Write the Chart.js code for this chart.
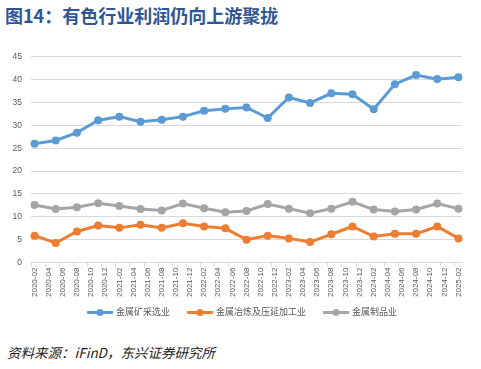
<!DOCTYPE html>
<html>
<head>
<meta charset="utf-8">
<script src="https://cdn.jsdelivr.net/npm/chart.js@4.4.1/dist/chart.umd.min.js"></script>
<style>
    body { margin: 0; background: #fff; width: 481px; height: 369px; overflow: hidden; position: relative; }
    #title { position: absolute; left: 5px; top: 2px; font: bold 18px "Noto Sans CJK SC", sans-serif; color: #2f5597; white-space: nowrap; }
    #source { position: absolute; left: 7px; top: 342px; font: italic 13.5px "Noto Sans CJK SC", sans-serif; color: #222; white-space: nowrap; }
    #wrap { position: absolute; left: 0; top: 30px; }
</style>
</head>
<body>
<div id="title">图14：有色行业利润仍向上游聚拢</div>
<div id="wrap"><canvas id="chart" width="481" height="297"></canvas></div>
<div id="source">资料来源：iFinD，东兴证券研究所</div>
<script>
// ########## data ##########
// axis runs monthly 2020-02 .. 2025-02, values are quarterly (every 3rd month)
const startYear = 2020;
const startMonth = 2;
const monthCount = 61;

const seriesNames = ["金属矿采选业", "金属冶炼及压延加工业", "金属制品业"];
const mining = [26.0, 26.7, 28.4, 31.1, 31.9, 30.8, 31.2, 31.9, 33.2, 33.6, 33.9,
    31.6, 36.1, 34.9, 37.0, 36.8, 33.5, 39.0, 41.0, 40.1, 40.5];
const smelting = [5.9, 4.3, 6.8, 8.1, 7.6, 8.3, 7.6, 8.6, 7.9, 7.5, 5.0,
    5.9, 5.3, 4.5, 6.2, 7.9, 5.7, 6.3, 6.3, 7.9, 5.3];
const products = [12.6, 11.7, 12.1, 13.0, 12.4, 11.7, 11.4, 12.9, 11.9, 11.0, 11.3,
    12.8, 11.8, 10.8, 11.8, 13.3, 11.6, 11.2, 11.6, 12.9, 11.8];
const yTicks = [0, 5, 10, 15, 20, 25, 30, 35, 40, 45];

const colors = ["#5b9bd5", "#ed7d31", "#a5a5a5"];

// month labels
const months = [];
for (let i = 0; i < monthCount; i++) {
    const m = startMonth - 1 + i;
    const y = startYear + Math.floor(m / 12);
    const mm = (m % 12) + 1;
    months.push(y + "-" + (mm < 10 ? "0" + mm : mm));
}

function spread(values) {
    const out = new Array(monthCount).fill(null);
    values.forEach((v, k) => { out[k * 3] = v; });
    return out;
}

// line + dot legend marker (left margin gives the gap to the previous item)
function legendMarker(color) {
    const c = document.createElement("canvas");
    c.width = 36;
    c.height = 9;
    const g = c.getContext("2d");
    g.strokeStyle = color;
    g.lineWidth = 3;
    g.beginPath();
    g.moveTo(9.25, 4.5);
    g.lineTo(35.25, 4.5);
    g.stroke();
    g.fillStyle = color;
    g.beginPath();
    g.arc(22.25, 4.5, 3.6, 0, Math.PI * 2);
    g.fill();
    return c;
}
const markers = colors.map(legendMarker);

const font = '"Liberation Sans", "Noto Sans CJK SC", sans-serif';

// nudge the legend right so it sits under the plot like the original
const legendShift = {
    id: "legendShift",
    afterLayout: function (chart) {
        chart.legend.left += 7.5;
        chart.legend.right += 7.5;
    },
};

new Chart(document.getElementById("chart"), {
    type: "line",
    data: {
        labels: months,
        datasets: [mining, smelting, products].map((vals, i) => ({
            label: seriesNames[i],
            data: spread(vals),
            borderColor: colors[i],
            backgroundColor: colors[i],
            borderWidth: 3,
            pointRadius: 4,
            pointBorderWidth: 0,
            pointBackgroundColor: colors[i],
            spanGaps: true,
            tension: 0,
        })),
    },
    plugins: [legendShift],
    options: {
        responsive: false,
        animation: false,
        layout: { padding: { left: 0, right: 19, top: 26.7, bottom: 0 } },
        plugins: {
            tooltip: { enabled: false },
            legend: {
                position: "bottom",
                labels: {
                    usePointStyle: true,
                    pointStyleWidth: 31.5,
                    padding: 10,
                    color: "#595959",
                    font: { family: font, size: 9 },
                    generateLabels: function (chart) {
                        return chart.data.datasets.map((ds, i) => ({
                            text: ds.label,
                            pointStyle: markers[i],
                            fillStyle: colors[i],
                            strokeStyle: colors[i],
                            lineWidth: 0,
                            fontColor: "#595959",
                            datasetIndex: i,
                        }));
                    },
                },
            },
        },
        scales: {
            x: {
                offset: true,
                grid: {
                    offset: true,
                    drawOnChartArea: false,
                    drawTicks: true,
                    tickLength: 4,
                    color: function (ctx) {
                        return ctx.index % 2 === 0 || ctx.index === monthCount ? "#d9d9d9" : "rgba(0,0,0,0)";
                    },
                },
                border: { color: "#d9d9d9" },
                ticks: {
                    autoSkip: false,
                    maxRotation: 90,
                    minRotation: 90,
                    padding: 1,
                    color: "#595959",
                    font: { family: font, size: 8 },
                    callback: function (value, index) {
                        return index % 2 === 0 ? months[index] : "";
                    },
                },
            },
            y: {
                min: 0,
                max: 45,
                afterBuildTicks: function (scale) {
                    scale.ticks = yTicks.map((v) => ({ value: v }));
                },
                afterFit: function (scale) {
                    scale.width = 31;
                },
                grid: { color: "#d9d9d9", drawTicks: false },
                border: { display: false },
                ticks: {
                    padding: 9,
                    color: "#595959",
                    font: { family: font, size: 8.5 },
                },
            },
        },
    },
});
</script>
</body>
</html>
